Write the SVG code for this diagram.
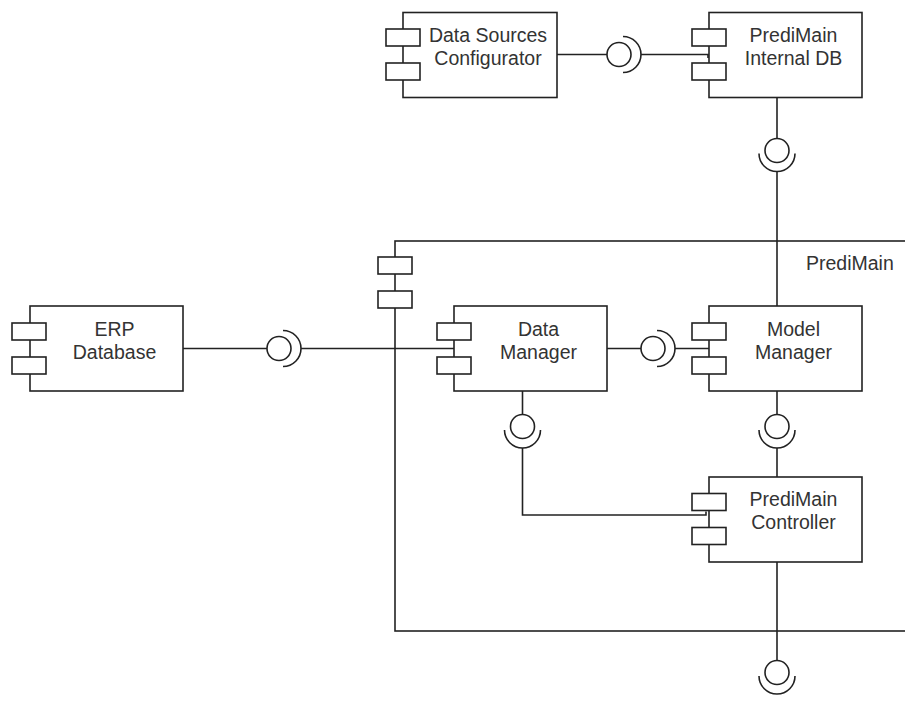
<svg xmlns="http://www.w3.org/2000/svg" width="905" height="726" viewBox="0 0 905 726">
<style>
.box{fill:#fff;stroke:#222;stroke-width:1.6}
.port{fill:#fff;stroke:#222;stroke-width:1.6}
.ln{fill:none;stroke:#222;stroke-width:1.6}
.ball{fill:#fff;stroke:#222;stroke-width:1.6}
.lbl{font-family:"Liberation Sans",Arial,Helvetica,sans-serif;font-size:19.5px;fill:#333;text-anchor:middle}
.lblL{font-family:"Liberation Sans",Arial,Helvetica,sans-serif;font-size:19.5px;fill:#333}
</style>
<rect width="905" height="726" fill="#fff"/>

<g id="PrediMain">
<rect class="box" x="395" y="241" width="620" height="390"/>
<rect class="port" x="378" y="257" width="34" height="17"/>
<rect class="port" x="378" y="291" width="34" height="17"/>
<text class="lblL" x="806" y="270">PrediMain</text>
</g>

<g id="connectors">
<path class="ln" d="M557,54.5 H607"/>
<circle class="ball" cx="619" cy="54.5" r="12"/>
<path class="ln" d="M623,36.5 A18,18 0 0 1 623,72.5"/>
<path class="ln" d="M641,54.5 H708 V58"/>

<path class="ln" d="M777,97 V138.5"/>
<circle class="ball" cx="777" cy="150.5" r="12"/>
<path class="ln" d="M759,153.5 A18,18 0 0 0 795,153.5"/>
<path class="ln" d="M777,171.5 V306"/>

<path class="ln" d="M183,348.5 H267"/>
<circle class="ball" cx="279" cy="348.5" r="12"/>
<path class="ln" d="M283,330.5 A18,18 0 0 1 283,366.5"/>
<path class="ln" d="M301,348.5 H454"/>

<path class="ln" d="M607,348.5 H641"/>
<circle class="ball" cx="653" cy="348.5" r="12"/>
<path class="ln" d="M657,330.5 A18,18 0 0 1 657,366.5"/>
<path class="ln" d="M675,348.5 H713 V353"/>

<path class="ln" d="M522.5,391 V414.5"/>
<circle class="ball" cx="522.5" cy="426.5" r="12"/>
<path class="ln" d="M504.5,430 A18,18 0 0 0 540.5,430"/>
<path class="ln" d="M522.5,448 V515 H706 V511.5"/>

<path class="ln" d="M777,391 V414.5"/>
<circle class="ball" cx="777" cy="426.5" r="12"/>
<path class="ln" d="M759,430 A18,18 0 0 0 795,430"/>
<path class="ln" d="M777,448 V477"/>

<path class="ln" d="M777,562 V660.5"/>
<circle class="ball" cx="777" cy="672.5" r="12"/>
<path class="ln" d="M759,676 A18,18 0 0 0 795,676"/>
</g>

<g id="DataSourcesConfigurator">
<rect class="box" x="403" y="12.5" width="154" height="85"/>
<rect class="port" x="386" y="29" width="34" height="17"/>
<rect class="port" x="386" y="63" width="34" height="17"/>
<text class="lbl" x="488" y="41.5">Data Sources</text>
<text class="lbl" x="488" y="64.5">Configurator</text>
</g>

<g id="PrediMainInternalDB">
<rect class="box" x="709" y="12.5" width="153" height="85"/>
<rect class="port" x="692" y="29" width="34" height="17"/>
<rect class="port" x="692" y="63" width="34" height="17"/>
<text class="lbl" x="793.5" y="41.5">PrediMain</text>
<text class="lbl" x="793.5" y="64.5">Internal DB</text>
</g>

<g id="ERPDatabase">
<rect class="box" x="30" y="306" width="153" height="85"/>
<rect class="port" x="12" y="323" width="34" height="17"/>
<rect class="port" x="12" y="357" width="34" height="17"/>
<text class="lbl" x="114.5" y="335.5">ERP</text>
<text class="lbl" x="114.5" y="358.5">Database</text>
</g>

<g id="DataManager">
<rect class="box" x="454" y="306" width="153" height="85"/>
<rect class="port" x="437" y="323" width="34" height="17"/>
<rect class="port" x="437" y="357" width="34" height="17"/>
<text class="lbl" x="538.5" y="335.5">Data</text>
<text class="lbl" x="538.5" y="358.5">Manager</text>
</g>

<g id="ModelManager">
<rect class="box" x="709" y="306" width="153" height="85"/>
<rect class="port" x="692" y="323" width="34" height="17"/>
<rect class="port" x="692" y="357" width="34" height="17"/>
<text class="lbl" x="793.5" y="335.5">Model</text>
<text class="lbl" x="793.5" y="358.5">Manager</text>
</g>

<g id="PrediMainController">
<rect class="box" x="709" y="477" width="153" height="85"/>
<rect class="port" x="692" y="493.5" width="34" height="17"/>
<rect class="port" x="692" y="527.5" width="34" height="17"/>
<text class="lbl" x="793.5" y="506">PrediMain</text>
<text class="lbl" x="793.5" y="529">Controller</text>
</g>
</svg>
